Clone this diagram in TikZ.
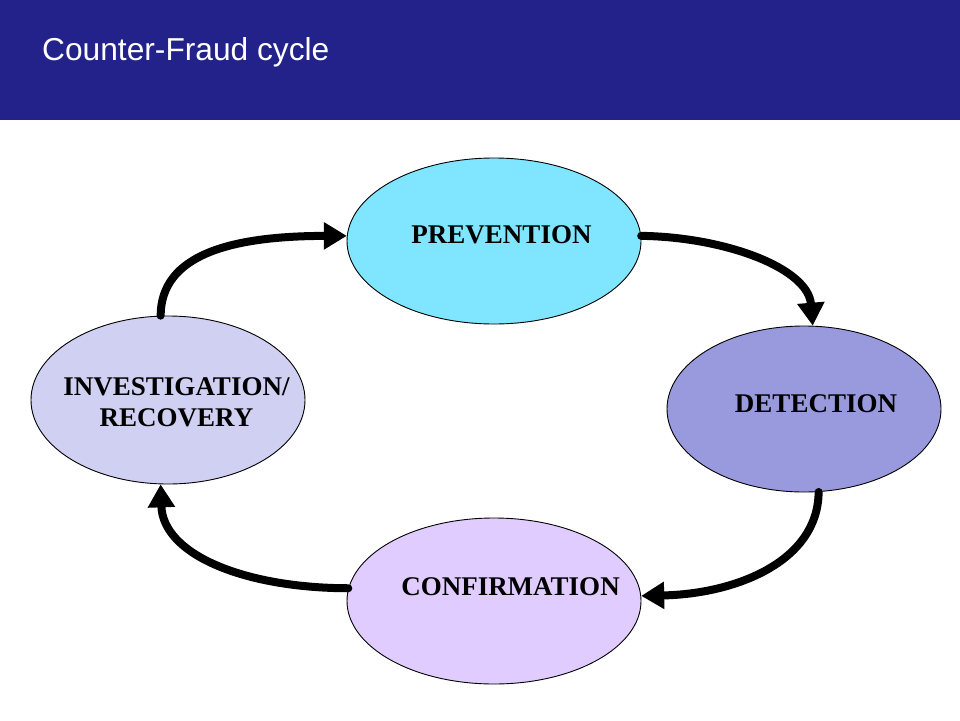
\documentclass[tikz,border=0pt]{standalone}
\usepackage{fontspec}
\setmainfont{Liberation Serif}
\newfontfamily\titlefont{Liberation Sans}
\usetikzlibrary{shapes.geometric,arrows.meta}
\definecolor{headblue}{HTML}{22228A}
\definecolor{prevfill}{HTML}{80E5FF}
\definecolor{detfill}{HTML}{9999DD}
\definecolor{invfill}{HTML}{D0D0F2}
\definecolor{conffill}{HTML}{E0CCFF}
\begin{document}
\begin{tikzpicture}[x=1pt,y=-1pt,
  cyc/.style={ellipse,draw=black,line width=0.9pt,inner sep=0pt},
  lbl/.style={font=\fontsize{27}{31}\selectfont\bfseries,align=center,inner sep=0pt},
  cycarrow/.style={line width=8pt,line cap=round,-{Triangle[length=23pt,width=26pt]}}]
\useasboundingbox (0,0) rectangle (960,720);
\fill[white] (0,0) rectangle (960,720);
\fill[headblue] (0,0) rectangle (960,120);
\node[anchor=base west,text=white,inner sep=0pt,font=\titlefont\fontsize{31.7}{36}\selectfont] (title) at (42,60) {Counter-Fraud cycle};

\node[cyc,fill=prevfill,minimum width=294pt,minimum height=166pt] (prev) at (494,241) {};
\node[cyc,fill=detfill,minimum width=274pt,minimum height=166pt] (det) at (804,409) {};
\node[cyc,fill=invfill,minimum width=274pt,minimum height=168pt] (inv) at (168,400) {};
\node[cyc,fill=conffill,minimum width=294pt,minimum height=166pt] (conf) at (494,601) {};

\node[lbl] (tprev) at (501.5,235) {PREVENTION};
\node[lbl] (tdet) at (816,403.5) {DETECTION};
\node[lbl] (tinv) at (176.5,402) {INVESTIGATION/\\RECOVERY};
\node[lbl] (tconf) at (510.5,587) {CONFIRMATION};

\draw[cycarrow] (inv.95) .. controls (161,255) and (230,236) .. (prev.178);
\draw[cycarrow] (prev.2) .. controls (725,237) and (808,268) .. (det.84);
\draw[cycarrow] (det.-80) .. controls (818,562) and (735,594) .. (conf.2);
\draw[cycarrow] (conf.175) .. controls (245,588) and (163,555) .. (inv.-95);
\end{tikzpicture}
\end{document}
